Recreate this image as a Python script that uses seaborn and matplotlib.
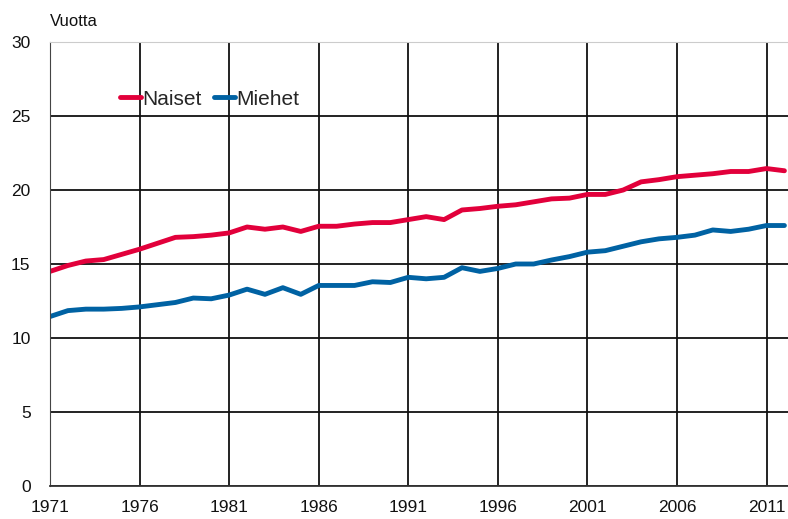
import pandas as pd
import matplotlib.pyplot as plt
import seaborn as sns

# ==========================================================
# DATA
# ==========================================================

years = list(range(1971, 2013))

naiset = [14.5, 14.9, 15.2, 15.3, 15.65, 16.0, 16.4, 16.8, 16.85, 16.95,
          17.1, 17.5, 17.35, 17.5, 17.2, 17.55, 17.55, 17.7, 17.8, 17.8,
          18.0, 18.2, 18.0, 18.65, 18.75, 18.9, 19.0, 19.2, 19.4, 19.45,
          19.7, 19.7, 20.0, 20.55, 20.7, 20.9, 21.0, 21.1, 21.25, 21.25,
          21.45, 21.3]

miehet = [11.45, 11.85, 11.95, 11.95, 12.0, 12.1, 12.25, 12.4, 12.7, 12.65,
          12.9, 13.3, 12.95, 13.4, 12.95, 13.55, 13.55, 13.55, 13.8, 13.75,
          14.1, 14.0, 14.1, 14.75, 14.5, 14.7, 15.0, 15.0, 15.27, 15.5,
          15.8, 15.9, 16.2, 16.5, 16.7, 16.8, 16.95, 17.3, 17.2, 17.35,
          17.6, 17.6]

series_names = ["Naiset", "Miehet"]
colors = ["#e2003b", "#0062a3"]
year_ticks = list(range(1971, 2012, 5))

df = pd.DataFrame({
    "Vuosi": years * 2,
    "Vuotta": naiset + miehet,
    "Sukupuoli": ["Naiset"] * len(years) + ["Miehet"] * len(years),
})

# ==========================================================
# PLOT
# ==========================================================

sns.set_style("white")
plt.rcParams["font.family"] = ["Liberation Sans", "DejaVu Sans"]

fig = plt.figure(figsize=(7.88, 5.19), dpi=100)
ax = fig.add_axes([50 / 788, 33 / 519, 738 / 788, 444 / 519])

sns.lineplot(
    data=df,
    x="Vuosi",
    y="Vuotta",
    hue="Sukupuoli",
    hue_order=series_names,
    palette=colors,
    linewidth=3.5,
    ax=ax,
)

ax.set_xlim(1971, 2012.2)
ax.set_ylim(0, 30)
ax.set_xticks(year_ticks)
ax.set_yticks(range(0, 31, 5))
ax.grid(True, color="#111111", linewidth=1.3)
ax.set_axisbelow(True)
ax.tick_params(axis="both", length=0, labelsize=12.5, colors="#111111")
ax.tick_params(axis="x", pad=10)
ax.tick_params(axis="y", pad=14)

ax.spines["right"].set_visible(False)
ax.spines["top"].set_color("#cccccc")
ax.spines["left"].set_color("#444444")
ax.spines["bottom"].set_color("#333333")
ax.spines["bottom"].set_linewidth(1.3)

ax.set_xlabel("")
ax.set_ylabel("")
fig.text(50 / 788, 1 - 22 / 519, "Vuotta", fontsize=12, va="center",
         color="#111111")

ax.legend(
    loc="upper left",
    bbox_to_anchor=(0.07, 0.935),
    ncol=2,
    frameon=False,
    handlelength=1.0,
    handletextpad=0.05,
    columnspacing=0.6,
    fontsize=15,
)

fig.savefig("out.png", dpi=100)
